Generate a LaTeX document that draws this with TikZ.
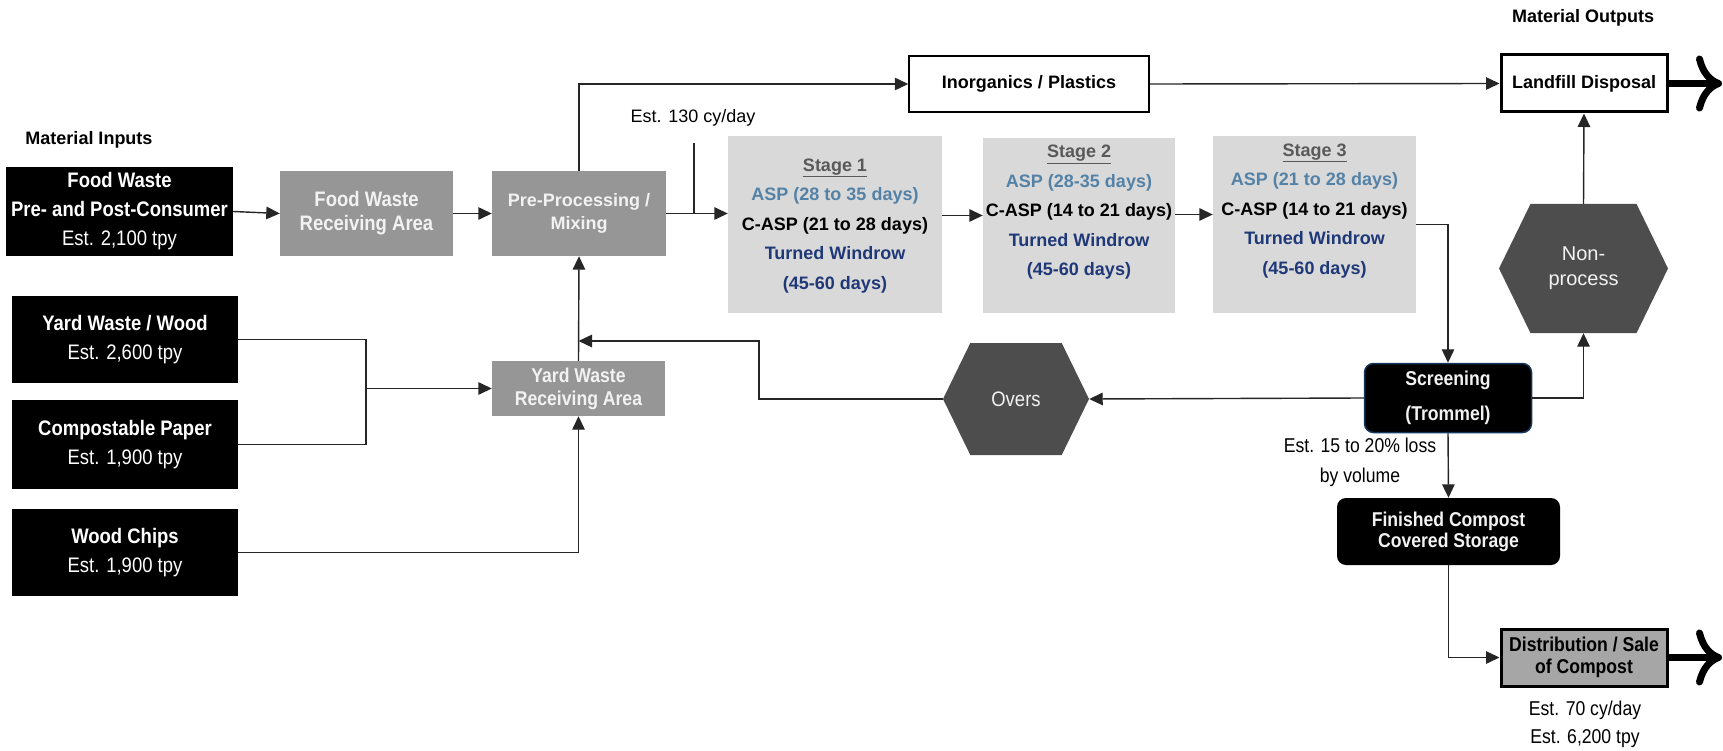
\documentclass[tikz,border=0pt]{standalone}
\usepackage{fontspec}
\setmainfont{Liberation Sans}
\newfontfamily\narrowfont[FakeStretch=0.88]{Liberation Sans}
\usetikzlibrary{arrows.meta,shapes.symbols}
\definecolor{procgray}{RGB}{150,150,150}
\definecolor{stagegray}{RGB}{217,217,217}
\definecolor{hexgray}{RGB}{77,77,77}
\definecolor{aspblue}{RGB}{84,130,166}
\definecolor{windrow}{RGB}{31,56,120}
\definecolor{screenedge}{RGB}{23,54,93}
\definecolor{distgray}{RGB}{166,166,166}
\definecolor{stagehead}{RGB}{89,89,89}
\definecolor{softwhite}{RGB}{242,242,242}
\begin{document}
\begin{tikzpicture}[x=1pt,y=-1pt,
  hdr/.style={inner sep=0pt,font=\bfseries\fontsize{18}{22}\selectfont},
  inbox/.style={fill=black,text=white,inner sep=0pt,align=center,minimum width=226pt,
    font=\narrowfont\fontsize{21}{29}\selectfont},
  procbox/.style={fill=procgray,text=softwhite,inner sep=0pt,align=center,minimum width=173pt,
    font=\narrowfont\bfseries\fontsize{21}{24}\selectfont},
  stagebox/.style={fill=stagegray,inner sep=0pt},
  stagetxt/.style={inner sep=0pt,align=center,font=\bfseries\fontsize{18}{29.5}\selectfont},
  outbox/.style={draw=black,fill=white,inner sep=0pt,font=\bfseries\fontsize{18}{22}\selectfont},
  hexnode/.style={signal,signal to=east and west,signal pointer angle=128,fill=hexgray,
    text=softwhite,inner sep=0pt,align=center,font=\fontsize{20}{25}\selectfont},
  roundbox/.style={fill=black,rounded corners=9pt,text=softwhite,inner sep=0pt,align=center,
    font=\narrowfont\bfseries\fontsize{20}{21}\selectfont},
  note/.style={inner sep=0pt,align=center,font=\narrowfont\fontsize{20}{29}\selectfont},
  conn/.style={line width=1.4pt,draw=black!85},
  arr/.style={conn,-{Triangle[length=13.5pt,width=12.5pt]}},
  bigarrow/.style={line width=7pt,-{Computer Modern Rightarrow[length=26pt,width=56pt]}}]
\useasboundingbox (0,0) rectangle (1723,751);

% material inputs
\node[hdr] (matin) at (89,140) {Material Inputs};
\node[inbox,minimum width=227pt,minimum height=89pt] (fw) at (119.5,211.5)
  {\textbf{Food Waste}\\\textbf{Pre- and Post-Consumer}\\Est. 2,100 tpy};
\node[inbox,minimum height=87pt] (yw) at (125,339.5) {\textbf{Yard Waste / Wood}\\Est. 2,600 tpy};
\node[inbox,minimum height=89pt] (cp) at (125,444.5) {\textbf{Compostable Paper}\\Est. 1,900 tpy};
\node[inbox,minimum height=87pt] (wc) at (125,552.5) {\textbf{Wood Chips}\\Est. 1,900 tpy};

% receiving and mixing
\node[procbox,minimum height=85pt] (fwra) at (366.5,213.5) {Food Waste\\Receiving Area};
\node[procbox,minimum width=174pt,minimum height=85pt,
  font=\bfseries\fontsize{18}{23}\selectfont] (pp) at (579,213.5) {Pre-Processing /\\Mixing};
\node[procbox,minimum height=55pt,font=\narrowfont\bfseries\fontsize{20}{23}\selectfont]
  (ywra) at (578.5,388.5) {Yard Waste\\Receiving Area};

% composting stages
\node[stagebox,minimum width=214pt,minimum height=177pt] (s1) at (835,224.5) {};
\node[stagebox,minimum width=192pt,minimum height=175pt] (s2) at (1079,225.5) {};
\node[stagebox,minimum width=203pt,minimum height=177pt] (s3) at (1314.5,224.5) {};
\node[stagetxt] (s1txt) at (835,226) {\textcolor{stagehead}{\underline{Stage 1}}\\
  \textcolor{aspblue}{ASP (28 to 35 days)}\\C-ASP (21 to 28 days)\\
  \textcolor{windrow}{Turned Windrow}\\\textcolor{windrow}{(45-60 days)}};
\node[stagetxt] (s2txt) at (1079,212.5) {\textcolor{stagehead}{\underline{Stage 2}}\\
  \textcolor{aspblue}{ASP (28-35 days)}\\C-ASP (14 to 21 days)\\
  \textcolor{windrow}{Turned Windrow}\\\textcolor{windrow}{(45-60 days)}};
\node[stagetxt] (s3txt) at (1314.5,211) {\textcolor{stagehead}{\underline{Stage 3}}\\
  \textcolor{aspblue}{ASP (21 to 28 days)}\\C-ASP (14 to 21 days)\\
  \textcolor{windrow}{Turned Windrow}\\\textcolor{windrow}{(45-60 days)}};

% outputs
\node[hdr] (matout) at (1583,18) {Material Outputs};
\node[outbox,line width=1.5pt,minimum width=240pt,minimum height=56pt] (inorg) at (1029,84) {Inorganics / Plastics};
\node[outbox,line width=3pt,minimum width=166pt,minimum height=57pt] (landfill) at (1584,83.5) {Landfill Disposal};
\node[hexnode,minimum width=169pt,minimum height=129pt] (nonproc) at (1583.5,268.5) {Non-\\process};
\node[hexnode,minimum width=146pt,minimum height=112pt,font=\narrowfont\fontsize{21}{25}\selectfont]
  (overs) at (1016,399) {Overs};
\node[roundbox,draw=screenedge,line width=1.5pt,minimum width=167pt,minimum height=69pt,
  font=\narrowfont\bfseries\fontsize{20}{35}\selectfont] (screen) at (1448,398) {Screening\\(Trommel)};
\node[roundbox,minimum width=223pt,minimum height=67pt] (fin) at (1448.5,531.5) {Finished Compost\\Covered Storage};
\node[draw=black,line width=3pt,fill=distgray,inner sep=0pt,align=center,minimum width=166pt,minimum height=57pt,
  font=\narrowfont\bfseries\fontsize{20}{22}\selectfont] (dist) at (1584,657.5) {Distribution / Sale\\of Compost};

% notes
\node[inner sep=0pt,font=\fontsize{18}{22}\selectfont] (cyday) at (693,118) {Est. 130 cy/day};
\node[note,font=\narrowfont\fontsize{20}{30}\selectfont] (loss) at (1360,462) {Est. 15 to 20\% loss\\by volume};
\node[note,font=\narrowfont\fontsize{20}{28}\selectfont] (outest) at (1585,724) {Est. 70 cy/day\\Est. 6,200 tpy};

% food waste line
\draw[arr] (fw.east) -- (fwra.west);
\draw[arr] (fwra.east) -- (pp.west);
\draw[arr] (pp.east) -- (s1.west |- pp.east);
\coordinate (cytop) at (694,143);
\draw[conn] (cytop) -- (cytop |- pp.east);
\draw[arr] (pp.north) |- (inorg.west);
\draw[arr] (inorg.east) -- (landfill.west);

% stage to stage
\draw[arr] ([yshift=9pt]s1.east) -- ([yshift=9pt]s1.east -| s2.west);
\draw[arr] ([yshift=11pt]s2.east) -- ([yshift=11pt]s2.east -| s3.west);
\draw[arr] (s3.east) -| (screen.north);

% yard waste line
\coordinate (ywjoin) at (366,388.5);
\draw[conn] (yw.east) -| (ywjoin) |- (cp.east);
\draw[arr] (ywjoin) -- (ywra.west);
\draw[arr] (wc.east) -| (ywra.south);
\draw[arr] (ywra.north) -- (pp.south);

% screening
\draw[arr] (screen.west) -- (overs.east);
\coordinate (ovturn) at (759,341);
\draw[arr] (overs.west) -| (ovturn) -- (ovturn -| ywra.north);
\draw[arr] (screen.east) -| (nonproc.south);
\draw[arr] (nonproc.north) -- (landfill.south);
\draw[arr] (screen.south) -- (fin.north);
\draw[arr] (fin.south) |- (dist.west);

% out of site
\coordinate (lfend) at (1722,83.5);
\coordinate (distend) at (1722,657.5);
\draw[bigarrow] (landfill.east) -- (lfend);
\draw[bigarrow] (dist.east) -- (distend);
\end{tikzpicture}
\end{document}
